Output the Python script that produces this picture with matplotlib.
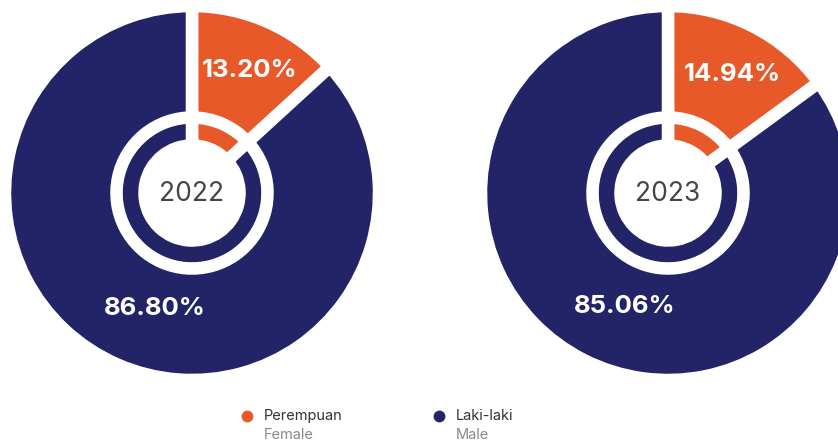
import numpy as np
import matplotlib.pyplot as plt

plt.rcParams['font.family'] = ['Inter', 'DejaVu Sans']

# share of employees by gender, per year
years = ['2022', '2023']
female_pct = [13.20, 14.94]
male_pct = [86.80, 85.06]
labels_id = ['Perempuan', 'Laki-laki']
labels_en = ['Female', 'Male']
colors = ['#E8592A', '#232468']

W, H = 838, 443
fig = plt.figure(figsize=(W / 100, H / 100), dpi=100)
ax = fig.add_axes([0, 0, 1, 1])

centers = [(192, H - 193), (668, H - 193)]
gap = 12.5 * 72 / 100   # white separator width in points
# label radius / angle nudge for (female, male) slices
lab_r = [135, 121]
lab_dang = [-1.5, 6.0]

for yr, f, m, c in zip(years, female_pct, male_pct, centers):
    vals = [f, m]
    # inner thin ring
    ax.pie(vals, colors=colors, startangle=90, counterclock=False,
           center=c, radius=76, frame=True,
           wedgeprops=dict(width=28.5, edgecolor='white', linewidth=gap))
    # outer ring
    wedges, _ = ax.pie(vals, colors=colors, startangle=90, counterclock=False,
                       center=c, radius=187, frame=True,
                       wedgeprops=dict(width=111.5, edgecolor='white', linewidth=gap))
    for w, v, r, da in zip(wedges, vals, lab_r, lab_dang):
        ang = np.deg2rad((w.theta1 + w.theta2) / 2 + da)
        ax.text(c[0] + r * np.cos(ang), c[1] + r * np.sin(ang), f'{v:.2f}%',
                ha='center', va='center', color='white',
                fontsize=18.5, fontweight='bold')
    ax.text(c[0], c[1] - 1, yr, ha='center', va='center',
            fontsize=19, color='#454545')

# legend: dot + two-language label
leg_x = [247, 439]
for lx, lid, len_, col in zip(leg_x, labels_id, labels_en, colors):
    ax.plot(lx, H - 416, 'o', ms=8.5, color=col, mec='none')
    ax.text(lx + 17, H - 416, lid, ha='left', va='center',
            fontsize=10.5, color='#333333')
    ax.text(lx + 17, H - 435, len_, ha='left', va='center',
            fontsize=10.5, color='#8a8a8a')

ax.set_xlim(0, W)
ax.set_ylim(0, H)
ax.set_aspect('auto')
ax.axis('off')

fig.savefig('out.png', dpi=100)
